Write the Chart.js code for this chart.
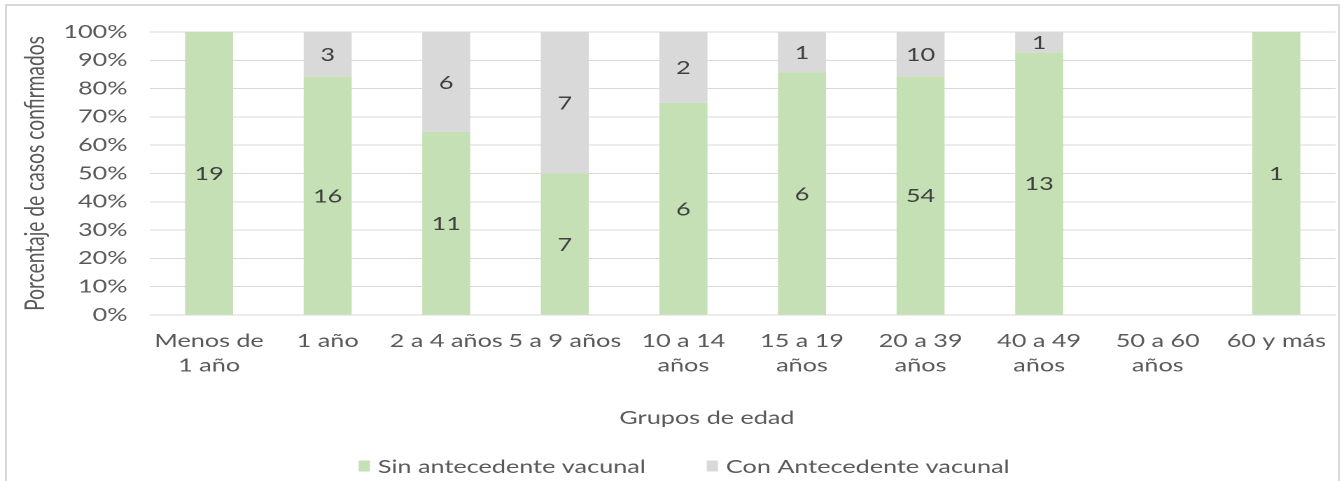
<!DOCTYPE html>
<html lang="es">
<head>
<meta charset="utf-8">
<title>Casos confirmados por grupo de edad</title>
<script src="https://cdn.jsdelivr.net/npm/chart.js@4.4.1/dist/chart.umd.min.js"></script>
<style>
    html, body { margin: 0; padding: 0; background: #fff; }
    #lienzo { position: relative; width: 1344px; height: 481px; overflow: hidden; }
    #marco { position: absolute; left: 5px; top: 4px; width: 1331px; height: 520px; border: 2px solid #d9d9d9; }
    /* el grafico original viene estirado a lo ancho */
    #caja { position: absolute; left: 0; top: 0; width: 960px; height: 481px; transform: scaleX(1.4); transform-origin: 0 0; }
</style>
</head>
<body>
<div id="lienzo">
    <div id="marco"></div>
    <div id="caja"><canvas id="grafico"></canvas></div>
</div>
<script>
// ========== DATOS ==========
const grupos = [
    ['Menos de', '1 año'], '1 año', '2 a 4 años', '5 a 9 años', ['10 a 14', 'años'],
    ['15 a 19', 'años'], ['20 a 39', 'años'], ['40 a 49', 'años'], ['50 a 60', 'años'], '60 y más'
];
const sinAntecedente = [19, 16, 11, 7, 6, 6, 54, 13, 0, 1];
const conAntecedente = [0, 3, 6, 7, 2, 1, 10, 1, 0, 0];
const ticksY = ['0%', '10%', '20%', '30%', '40%', '50%', '60%', '70%', '80%', '90%', '100%'];

// porcentaje de cada grupo (100% apilado)
const totales = sinAntecedente.map((v, i) => v + conAntecedente[i]);
const pct = arr => arr.map((v, i) => totales[i] ? v / totales[i] * 100 : 0);

const FUENTE = 'Lato, "Open Sans", sans-serif';
const GRIS_TEXTO = '#595959';

// ========== ETIQUETAS Y LEYENDA ==========
const rotulos = {
    id: 'rotulos',
    afterDatasetsDraw(chart) {
        const ctx = chart.ctx;
        ctx.save();
        ctx.font = '18px ' + FUENTE;
        ctx.fillStyle = '#404040';
        ctx.textAlign = 'center';
        ctx.textBaseline = 'middle';
        chart.data.datasets.forEach((ds, di) => {
            const meta = chart.getDatasetMeta(di);
            meta.data.forEach((bar, i) => {
                const n = ds.conteos[i];
                if (!n) return;
                ctx.fillText(n, bar.x, (bar.y + bar.base) / 2 + 1);
            });
        });
        ctx.restore();
    },
    afterDraw(chart) {
        const ctx = chart.ctx;
        ctx.save();
        ctx.font = '18px ' + FUENTE;
        ctx.fillStyle = GRIS_TEXTO;
        ctx.textBaseline = 'middle';
        ctx.textAlign = 'center';
        // titulo del eje x, centrado en el grafico completo
        ctx.fillText('Grupos de edad', chart.width * 0.526, 418);

        // leyenda
        const caja = 8, hueco = 5.7, sep = 43.6;
        const items = chart.data.datasets.map(ds => ({
            texto: ds.label, color: ds.backgroundColor,
            ancho: caja + hueco + ctx.measureText(ds.label).width
        }));
        const total = items.reduce((s, it) => s + it.ancho, 0) + sep * (items.length - 1);
        let x = chart.width * 0.509 - total / 2;
        const y = 466;
        ctx.textAlign = 'left';
        items.forEach(it => {
            ctx.fillStyle = it.color;
            ctx.fillRect(x, y - 5.5, caja, 11);
            ctx.fillStyle = GRIS_TEXTO;
            ctx.fillText(it.texto, x + caja + hueco, y + 1);
            x += it.ancho + sep;
        });
        ctx.restore();
    }
};

// ========== GRAFICO ==========
new Chart(document.getElementById('grafico'), {
    type: 'bar',
    data: {
        labels: grupos,
        datasets: [
            { label: 'Sin antecedente vacunal', data: pct(sinAntecedente), conteos: sinAntecedente, backgroundColor: '#c5e0b4' },
            { label: 'Con Antecedente vacunal', data: pct(conAntecedente), conteos: conAntecedente, backgroundColor: '#d9d9d9' }
        ]
    },
    options: {
        responsive: true,
        maintainAspectRatio: false,
        animation: false,
        devicePixelRatio: 2,
        categoryPercentage: 1,
        barPercentage: 0.405,
        layout: { padding: { left: 8, right: 6, top: 32, bottom: 54 } },
        plugins: { legend: { display: false }, tooltip: { enabled: false } },
        scales: {
            x: {
                stacked: true,
                grid: { display: false },
                border: { display: false },
                ticks: { color: GRIS_TEXTO, padding: 6, maxRotation: 0, autoSkip: false, font: { family: FUENTE, size: 18, lineHeight: 1.35 } },
                afterFit: s => { s.height = 112; }
            },
            y: {
                stacked: true,
                min: 0,
                max: 100,
                grid: { color: '#d9d9d9', drawTicks: false },
                border: { display: false },
                ticks: {
                    stepSize: 10, padding: 16, color: GRIS_TEXTO,
                    font: { family: FUENTE, size: 18 },
                    callback: (v, i) => ticksY[i]
                },
                title: {
                    display: true, text: 'Porcentaje de casos confirmados', color: GRIS_TEXTO,
                    padding: { top: 6, bottom: 0 }, font: { family: FUENTE, size: 19.2 }
                },
                afterFit: s => { s.width = 99; }
            }
        }
    },
    plugins: [rotulos]
});
</script>
</body>
</html>
